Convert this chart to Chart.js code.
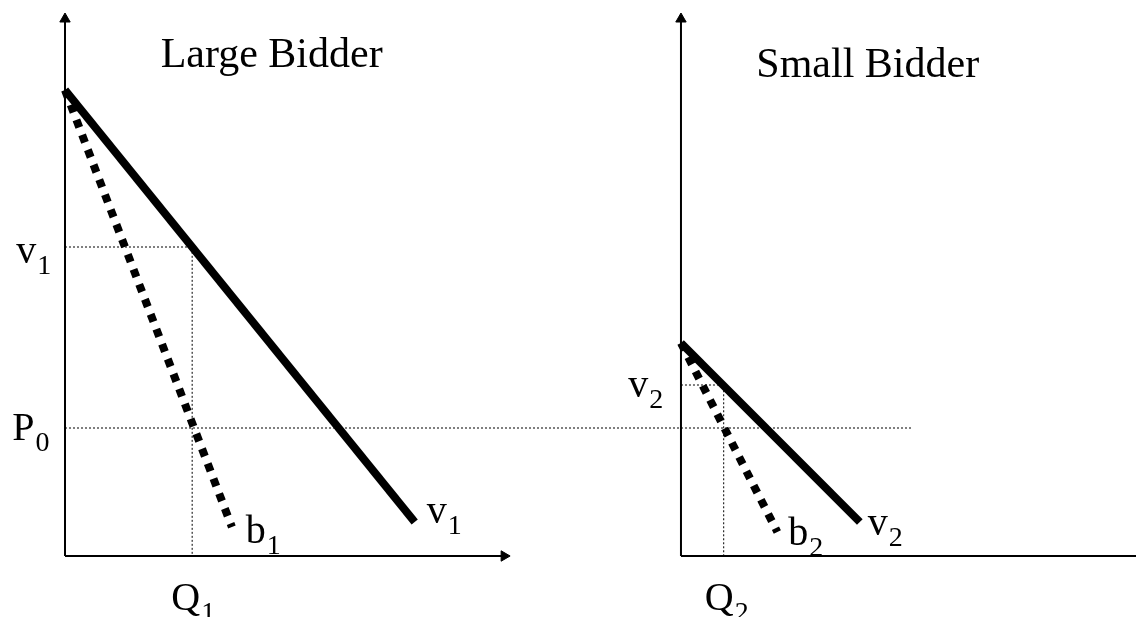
<!DOCTYPE html>
<html>
<head>
<meta charset="utf-8">
<title>Large Bidder / Small Bidder</title>
<script src="https://cdn.jsdelivr.net/npm/chart.js@4/dist/chart.umd.min.js"></script>
<style>
  body { margin: 0; background: #fff; }
  #wrap { width: 1143px; height: 617px; position: relative; }
</style>
</head>
<body>
<div id="wrap"><canvas id="grafico"></canvas></div>
<script>
// diagram units: quantity on x, price on y (both panels share the price scale)
const smallOrigin = 62.0;          // where the small bidder's axes start on the shared x scale

// large bidder: [quantity, price]
const v1Curve = [[0, 46.6], [35.2, 3.4]];
const b1Curve = [[0, 46.6], [16.8, 2.9]];
const v1Level = 30.9;
const q1 = 12.8;

// small bidder: [quantity, price] relative to its own origin
const v2Curve = [[0, 21.3], [18.0, 3.4]];
const b2Curve = [[0, 21.3], [9.7, 2.4]];
const v2Level = 17.1;
const q2 = 4.3;

// common price line
const p0 = 12.8;
const p0End = 85.3;

// axis extents
const xMax = 107.8;
const yMax = 54.3;
const largeQAxisEnd = 44.8;

// texts: [main, subscript, x, y, align]
const textos = [
    ['Large Bidder', '', 20.8, 48.9, 'center'],
    ['Small Bidder', '', 80.8, 47.9, 'center'],
    ['v', '1', -4.9, 29.3, 'left'],
    ['P', '0', -5.3, 11.6, 'left'],
    ['Q', '1', 10.7, -5.4, 'left'],
    ['b', '1', 18.2, 1.3, 'left'],
    ['v', '1', 36.4, 3.3, 'left'],
    ['v', '2', 56.7, 15.9, 'left'],
    ['Q', '2', 64.4, -5.4, 'left'],
    ['b', '2', 72.8, 1.1, 'left'],
    ['v', '2', 80.8, 2.1, 'left']
];

const pts = (arr, dx = 0) => arr.map(p => ({ x: p[0] + dx, y: p[1] }));

const ARROW = 0.6; // triangle centre sits this far before the tip

function eixo(data, rot, comSeta) {
    return {
        data,
        borderColor: '#000',
        borderWidth: 2,
        showLine: true,
        pointRadius: data.map((_, i) => (comSeta && i === data.length - 1) ? 6 : 0),
        pointStyle: 'triangle',
        rotation: rot,
        pointBackgroundColor: '#000',
        pointBorderColor: '#000',
        pointBorderWidth: 1,
        clip: false
    };
}

function curva(data, tracejada) {
    return {
        data,
        borderColor: '#000',
        borderWidth: 8,
        borderCapStyle: 'butt',
        borderDash: tracejada ? [8, 8] : [],
        showLine: true,
        pointRadius: 0,
        clip: false
    };
}

function guia(data) {
    return {
        data,
        borderColor: '#000',
        borderWidth: 1,
        borderDash: [2, 2],
        showLine: true,
        pointRadius: 0,
        clip: false
    };
}

const datasets = [
    // axes
    eixo([{ x: 0, y: 0 }, { x: 0, y: yMax - ARROW }], 0, true),
    eixo([{ x: 0, y: 0 }, { x: largeQAxisEnd - ARROW, y: 0 }], 90, true),
    eixo([{ x: smallOrigin, y: 0 }, { x: smallOrigin, y: yMax - ARROW }], 0, true),
    eixo([{ x: smallOrigin, y: 0 }, { x: xMax, y: 0 }], 90, false),
    // guides
    guia([{ x: 0, y: v1Level }, { x: q1, y: v1Level }, { x: q1, y: 0 }]),
    guia([{ x: 0, y: p0 }, { x: p0End, y: p0 }]),
    guia([{ x: smallOrigin, y: v2Level }, { x: smallOrigin + q2, y: v2Level }, { x: smallOrigin + q2, y: 0 }]),
    // curves
    curva(pts(b1Curve), true),
    curva(pts(v1Curve), false),
    curva(pts(b2Curve, smallOrigin), true),
    curva(pts(v2Curve, smallOrigin), false)
];

const textoPlugin = {
    id: 'textos',
    afterDatasetsDraw(chart) {
        const { ctx, scales: { x, y } } = chart;
        ctx.save();
        ctx.fillStyle = '#000';
        ctx.textBaseline = 'alphabetic';
        textos.forEach(([main, sub, tx, ty, align]) => {
            const px = x.getPixelForValue(tx);
            const py = y.getPixelForValue(ty);
            const grande = main.length > 2;
            ctx.font = (grande ? '42px' : '40px') + ' "Liberation Serif", "Times New Roman", serif';
            ctx.textAlign = align;
            ctx.fillText(main, px, py);
            if (sub) {
                const w = ctx.measureText(main).width;
                ctx.font = '28px "Liberation Serif", "Times New Roman", serif';
                ctx.textAlign = 'left';
                ctx.fillText(sub, px + w + 1, py + 11);
            }
        });
        ctx.restore();
    }
};

new Chart(document.getElementById('grafico'), {
    type: 'scatter',
    data: { datasets },
    options: {
        responsive: true,
        maintainAspectRatio: false,
        animation: false,
        events: [],
        layout: { padding: { left: 65, right: 0, top: 13, bottom: 61 } },
        plugins: {
            legend: { display: false },
            tooltip: { enabled: false },
            title: { display: false }
        },
        scales: {
            x: { type: 'linear', display: false, min: 0, max: xMax },
            y: { type: 'linear', display: false, min: 0, max: yMax }
        }
    },
    plugins: [textoPlugin]
});
</script>
</body>
</html>
